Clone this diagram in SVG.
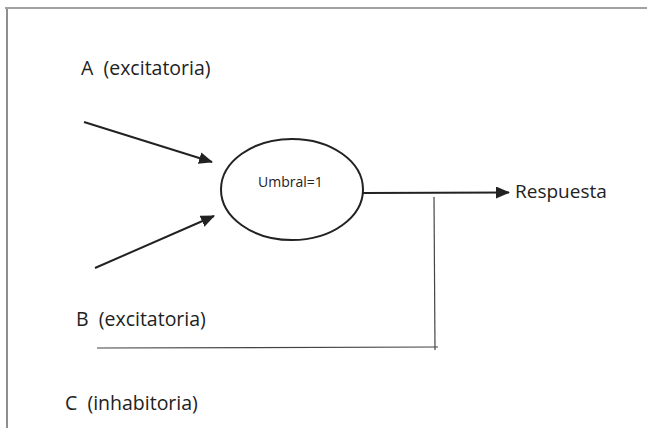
<svg xmlns="http://www.w3.org/2000/svg" width="647" height="428" viewBox="0 0 647 428">
<style>
.t{font-family:"Open Sans","Liberation Sans",sans-serif;fill:#222;white-space:pre;}
.lbl{font-size:19.5px;}
.thin{stroke:#444;stroke-width:1.2;fill:none;}
.arr{stroke:#222;stroke-width:2;fill:none;}
</style>
<defs>
<marker id="ah2" markerWidth="14" markerHeight="12" refX="13" refY="6" orient="auto" markerUnits="userSpaceOnUse">
<path d="M0,0 L14,6 L0,12 Z" fill="#222"/>
</marker>
</defs>
<rect width="647" height="428" fill="#fff"/>
<g id="frame">
<line x1="5" y1="8" x2="647" y2="8" class="thin"/>
<line x1="7" y1="9" x2="7" y2="428" class="thin"/>
</g>
<g id="connectors">
<line x1="84" y1="122" x2="212" y2="162" class="arr" marker-end="url(#ah2)"/>
<line x1="95" y1="268" x2="214" y2="216" class="arr" marker-end="url(#ah2)"/>
<line x1="363" y1="193" x2="509" y2="192.5" class="arr" marker-end="url(#ah2)"/>
<polyline points="434,197 435,350" class="thin"/>
<line x1="97" y1="348" x2="438" y2="347" class="thin"/>
</g>
<g id="neuron">
<ellipse cx="292" cy="189.5" rx="71" ry="50.5" fill="#fff" stroke="#222" stroke-width="2"/>
<text x="258" y="187" class="t" font-size="14">Umbral=1</text>
</g>
<g id="labelA"><text x="81" y="75" class="t lbl" xml:space="preserve">A  (excitatoria)</text></g>
<g id="labelB"><text x="76" y="326" class="t lbl" xml:space="preserve">B  (excitatoria)</text></g>
<g id="labelC"><text x="65" y="410" class="t lbl" xml:space="preserve">C  (inhabitoria)</text></g>
<g id="respuesta"><text x="515" y="198" class="t" font-size="19">Respuesta</text></g>
</svg>
